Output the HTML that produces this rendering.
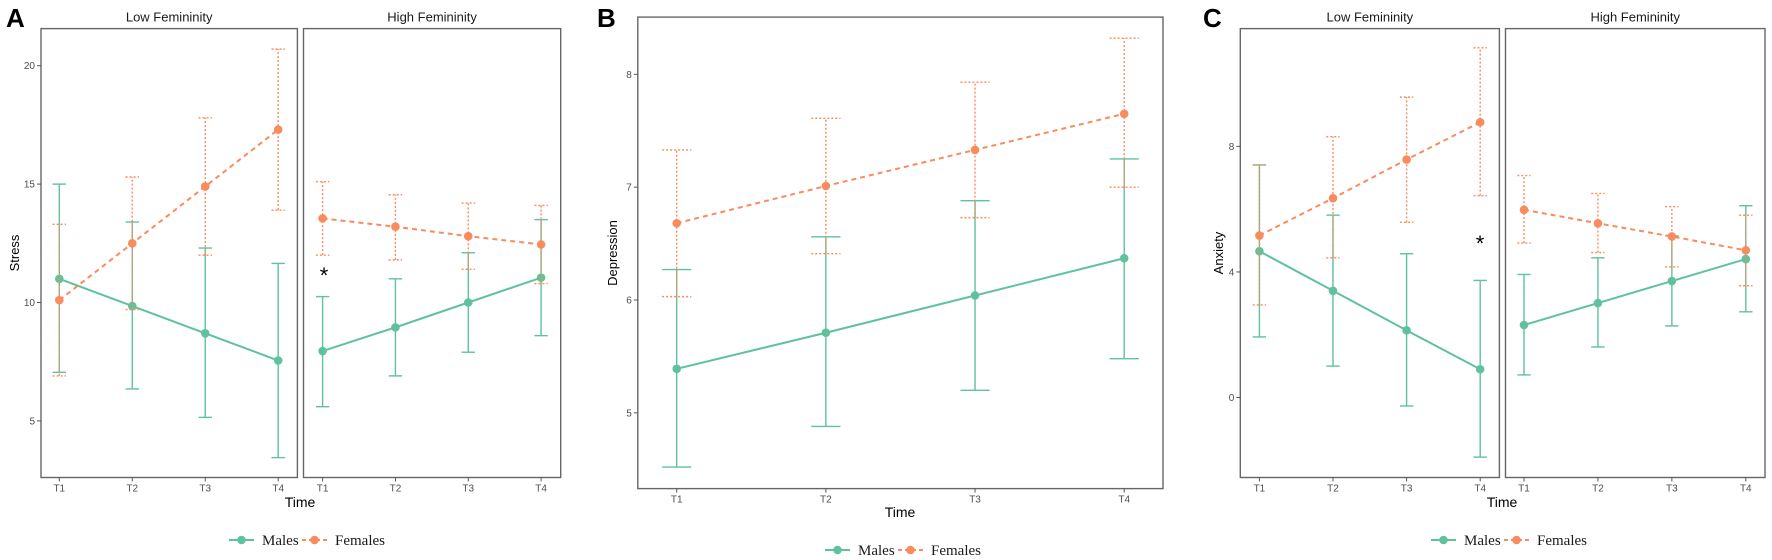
<!DOCTYPE html>
<html><head><meta charset="utf-8"><style>
html,body{margin:0;padding:0;background:#fff;}
svg{display:block;font-family:"Liberation Sans",sans-serif;}
</style></head><body>
<svg id="chart" width="1772" height="560" xmlns="http://www.w3.org/2000/svg"></svg>
<script>
const timeLabels = ["T1","T2","T3","T4"];
// Panel A - Stress
const stressTicks = [5,10,15,20];
const aLowMale = [11.0,9.85,8.7,7.55];
const aLowMaleLo = [7.05,6.35,5.15,3.45];
const aLowMaleHi = [15.0,13.4,12.3,11.65];
const aLowFem = [10.1,12.5,14.9,17.3];
const aLowFemLo = [6.9,9.7,12.0,13.9];
const aLowFemHi = [13.3,15.3,17.8,20.7];
const aHighMale = [7.95,8.95,10.0,11.05];
const aHighMaleLo = [5.6,6.9,7.9,8.6];
const aHighMaleHi = [10.25,11.0,12.1,13.5];
const aHighFem = [13.55,13.2,12.8,12.45];
const aHighFemLo = [12.0,11.8,11.4,10.8];
const aHighFemHi = [15.1,14.55,14.2,14.1];
// Panel B - Depression
const depTicks = [5,6,7,8];
const bMale = [5.39,5.71,6.04,6.37];
const bMaleLo = [4.52,4.88,5.2,5.48];
const bMaleHi = [6.27,6.56,6.88,7.25];
const bFem = [6.68,7.01,7.33,7.65];
const bFemLo = [6.03,6.41,6.73,7.0];
const bFemHi = [7.33,7.61,7.93,8.32];
// Panel C - Anxiety
const anxTicks = [0,4,8];
const cLowMale = [4.66,3.4,2.14,0.9];
const cLowMaleLo = [1.93,1.0,-0.27,-1.9];
const cLowMaleHi = [7.41,5.81,4.58,3.73];
const cLowFem = [5.16,6.35,7.58,8.77];
const cLowFemLo = [2.95,4.45,5.58,6.43];
const cLowFemHi = [7.41,8.31,9.57,11.14];
const cHighMale = [2.31,3.01,3.71,4.41];
const cHighMaleLo = [0.72,1.61,2.28,2.73];
const cHighMaleHi = [3.92,4.45,5.15,6.11];
const cHighFem = [5.98,5.55,5.13,4.69];
const cHighFemLo = [4.92,4.62,4.16,3.56];
const cHighFemHi = [7.07,6.5,6.08,5.81];

const NS="http://www.w3.org/2000/svg";
const svg=document.getElementById('chart');
const GREEN="#5fc29c", ORANGE="#f98b5e";
function el(tag,attrs,parent,text){const e=document.createElementNS(NS,tag);for(const k in attrs)e.setAttribute(k,attrs[k]);if(text!==undefined)e.textContent=text;(parent||svg).appendChild(e);return e;}

function yScale(v0,y0,v1,y1){return v=>y0+(v-v0)*(y1-y0)/(v1-v0);}

function drawPanel(name,box,xs,ys,ticks,showYTicks,series,cap,strip){
  const g=el('g',{});
  
  
  el('rect',{x:box.x0,y:box.y0,width:box.x1-box.x0,height:box.y1-box.y0,fill:'none',stroke:'#666','stroke-width':1.4},g);
  if(strip){const s=el('text',{x:(box.x0+box.x1)/2,y:box.y0-7,'text-anchor':'middle','font-size':13,fill:'#1a1a1a'},g,strip);
    
    }
  timeLabels.forEach((t,i)=>{
    el('line',{x1:xs(i),x2:xs(i),y1:box.y1,y2:box.y1+4,stroke:'#555'},g);
    const tl=el('text',{x:xs(i),y:box.y1+14,'text-anchor':'middle','font-size':10,fill:'#4d4d4d'},g,t);
    
    
  });
  if(showYTicks){ticks.forEach(v=>{
    el('line',{x1:box.x0-4,x2:box.x0,y1:ys(v),y2:ys(v),stroke:'#555'},g);
    const yl=el('text',{x:box.x0-6,y:ys(v)+3.5,'text-anchor':'end','font-size':10,fill:'#4d4d4d'},g,String(v));
    
    
  });}
  series.forEach(s=>{
    const sg=el('g',{},g);
    
    
    s.mean.forEach((m,i)=>{
      const dash=s.fem?'2,2':null;
      const a={stroke:s.color,'stroke-width':1.4};if(dash)a['stroke-dasharray']=dash;
      el('line',Object.assign({x1:xs(i),x2:xs(i),y1:ys(s.lo[i]),y2:ys(s.hi[i])},a),sg);
      el('line',Object.assign({x1:xs(i)-cap,x2:xs(i)+cap,y1:ys(s.lo[i]),y2:ys(s.lo[i])},a),sg);
      el('line',Object.assign({x1:xs(i)-cap,x2:xs(i)+cap,y1:ys(s.hi[i]),y2:ys(s.hi[i])},a),sg);
    });
    const pts=s.mean.map((m,i)=>xs(i)+','+ys(m)).join(' ');
    const la={points:pts,fill:'none',stroke:s.color,'stroke-width':2};
    if(s.fem)la['stroke-dasharray']='5,4';
    el('polyline',la,sg);
    s.mean.forEach((m,i)=>{
      const c=el('circle',{cx:xs(i),cy:ys(m),r:4.3,fill:s.color},sg);
      
      
    });
  });
  return g;
}
function text(x,y,s,attrs,name){const t=el('text',Object.assign({x:x,y:y},attrs),svg,s);
  
  return t;}
function legend(cx,y,name){
  const g=el('g',{});
  
  
  const x=cx-75;
  el('line',{x1:x,x2:x+25,y1:y,y2:y,stroke:GREEN,'stroke-width':2},g);
  el('circle',{cx:x+12.5,cy:y,r:4.3,fill:GREEN},g);
  el('text',{x:x+33,y:y+5,'font-size':15,'font-family':'Liberation Serif,serif',fill:'#1a1a1a'},g,'Males');
  el('line',{x1:x+73,x2:x+98,y1:y,y2:y,stroke:ORANGE,'stroke-width':2,'stroke-dasharray':'4,3'},g);
  el('circle',{cx:x+85.5,cy:y,r:4.3,fill:ORANGE},g);
  el('text',{x:x+106,y:y+5,'font-size':15,'font-family':'Liberation Serif,serif',fill:'#1a1a1a'},g,'Females');
}
function mk(name,color,fem,mean,lo,hi){return {name:name,color:color,fem:fem,mean:mean,lo:lo,hi:hi};}

// Panel A
const yA=yScale(10,302.5,20,65.7);
const xAL=i=>59.3+i*(278.2-59.3)/3, xAH=i=>322.6+i*(541.1-322.6)/3;
drawPanel('panel-a-low',{x0:41,x1:297.4,y0:28.6,y1:477.5},xAL,yA,stressTicks,true,
  [mk('males-series',GREEN,false,aLowMale,aLowMaleLo,aLowMaleHi),mk('females-series',ORANGE,true,aLowFem,aLowFemLo,aLowFemHi)],6.7,'Low Femininity');
drawPanel('panel-a-high',{x0:303.5,x1:560.7,y0:28.6,y1:477.5},xAH,yA,stressTicks,false,
  [mk('males-series',GREEN,false,aHighMale,aHighMaleLo,aHighMaleHi),mk('females-series',ORANGE,true,aHighFem,aHighFemLo,aHighFemHi)],6.7,'High Femininity');
text(6,27,'A',{'font-size':26,'font-weight':'bold',fill:'#000'},'panel-a-letter');
text(19,253,'Stress',{'font-size':13,fill:'#000','text-anchor':'middle',transform:'rotate(-90 19 253)'},'y-axis-title');
text(300,507,'Time',{'font-size':14,fill:'#000','text-anchor':'middle'},'x-axis-title');
text(324,283,'*',{'font-size':22,fill:'#000','text-anchor':'middle'},'significance-marker');
legend(304,540,'legend-a');

// Panel B
const yB=yScale(6,300,8,74.3);
const xB=i=>676.7+i*(1124.2-676.7)/3;
drawPanel('panel-b',{x0:637.8,x1:1163,y0:17.1,y1:488.6},xB,yB,depTicks,true,
  [mk('males-series',GREEN,false,bMale,bMaleLo,bMaleHi),mk('females-series',ORANGE,true,bFem,bFemLo,bFemHi)],14.6,null);
text(597,27,'B',{'font-size':26,'font-weight':'bold',fill:'#000'},'panel-b-letter');
text(617,253,'Depression',{'font-size':13,fill:'#000','text-anchor':'middle',transform:'rotate(-90 617 253)'},'y-axis-title');
text(900,517,'Time',{'font-size':14,fill:'#000','text-anchor':'middle'},'x-axis-title');
legend(900,550,'legend-b');

// Panel C
const yC=yScale(0,397.5,8,146.4);
const xCL=i=>1259.4+i*(1480.2-1259.4)/3, xCH=i=>1524+i*(1745.8-1524)/3;
drawPanel('panel-c-low',{x0:1240.3,x1:1499.4,y0:28.6,y1:477.5},xCL,yC,anxTicks,true,
  [mk('males-series',GREEN,false,cLowMale,cLowMaleLo,cLowMaleHi),mk('females-series',ORANGE,true,cLowFem,cLowFemLo,cLowFemHi)],6.7,'Low Femininity');
drawPanel('panel-c-high',{x0:1505.5,x1:1765,y0:28.6,y1:477.5},xCH,yC,anxTicks,false,
  [mk('males-series',GREEN,false,cHighMale,cHighMaleLo,cHighMaleHi),mk('females-series',ORANGE,true,cHighFem,cHighFemLo,cHighFemHi)],6.7,'High Femininity');
text(1203,27,'C',{'font-size':26,'font-weight':'bold',fill:'#000'},'panel-c-letter');
text(1223,253,'Anxiety',{'font-size':13,fill:'#000','text-anchor':'middle',transform:'rotate(-90 1223 253)'},'y-axis-title');
text(1502,507,'Time',{'font-size':14,fill:'#000','text-anchor':'middle'},'x-axis-title');
text(1480,251,'*',{'font-size':22,fill:'#000','text-anchor':'middle'},'significance-marker');
legend(1506,540,'legend-c');
</script>
</body></html>
